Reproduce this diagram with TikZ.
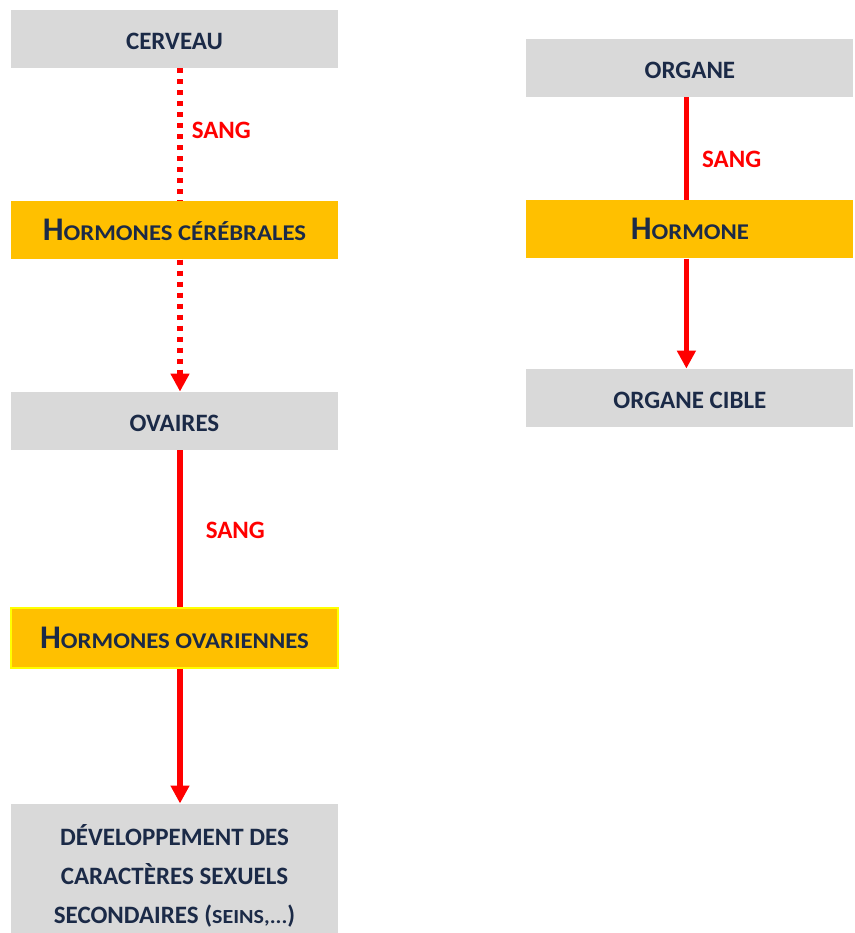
\documentclass[tikz,border=0pt]{standalone}
\usepackage{fontspec}
\setmainfont{Carlito}
\usetikzlibrary{arrows.meta, positioning}
\definecolor{textnavy}{HTML}{1B2A47}
\definecolor{boxgrey}{HTML}{D9D9D9}
\definecolor{hormgold}{HTML}{FFC000}
\definecolor{bloodred}{HTML}{FF0000}
\definecolor{brightyellow}{HTML}{FFFF00}
\tikzset{organ/.style={rectangle, fill=boxgrey, minimum width=327pt, minimum height=58pt, inner sep=0pt, text height=21pt, align=center, text=textnavy, font=\bfseries\fontsize{25}{39}\selectfont}}
\tikzset{hormone/.style={organ, fill=hormgold, text height=21pt}}
\tikzset{blood/.style={draw=bloodred, line width=5.5pt}}
\tikzset{flow/.style={blood, -{Triangle[width=18pt,length=18pt]}}}
\tikzset{pointille/.style={dash pattern=on 5pt off 6pt}}
\tikzset{sang/.style={right, inner sep=0pt, text=bloodred, font=\bfseries\fontsize{25}{28}\selectfont}}
\newcommand{\petitcap}[2]{{\fontsize{33}{36}\selectfont #1}{\addfontfeatures{FakeStretch=1.1}\fontsize{22.5}{26}\selectfont #2}}

\begin{document}
\begin{tikzpicture}[x=1pt, y=-1pt]
				\useasboundingbox (0,0) rectangle (854,933);
				\node[organ] (cerveau) at (174.5,39) {CERVEAU};
				\node[hormone] (hc) [below=133pt of cerveau] {\petitcap{H}{ORMONES CÉRÉBRALES}};
				\node[organ] (ovaires) [below=132pt of hc] {OVAIRES};
				\node[hormone, draw=brightyellow, line width=1.5pt, minimum height=60pt] (ho) [below=157pt of ovaires] {\petitcap{H}{ORMONES OVARIENNES}};
				\node[organ, minimum height=144pt, text height=] (dev) [below=135pt of ho] {DÉVELOPPEMENT DES\\CARACTÈRES SEXUELS\\SECONDAIRES ({\addfontfeatures{FakeStretch=1.1}\fontsize{20}{39}\selectfont SEINS,...})};

				\node[organ] (organe) [right=188pt of cerveau, yshift=-29pt] {ORGANE};
				\node[hormone] (hormone) [below=103pt of organe] {\petitcap{H}{ORMONE}};
				\node[organ] (cible) [below=110pt of hormone] {ORGANE CIBLE};

				% left column
				\draw[blood, pointille] ([xshift=5.5pt]cerveau.south) -- node[sang, pos=0.47, xshift=9pt] {SANG} ([xshift=5.5pt]hc.north);
				\draw[flow, pointille] ([xshift=5.5pt]hc.south) -- ([xshift=5.5pt]ovaires.north);
				\draw[blood] ([xshift=5.5pt]ovaires.south) -- node[sang, pos=0.51, xshift=23pt] {SANG} ([xshift=5.5pt]ho.north);
				\draw[flow] ([xshift=5.5pt]ho.south) -- ([xshift=5.5pt]dev.north);

				% right column
				\draw[blood] ([xshift=-3.5pt]organe.south) -- node[sang, pos=0.6, xshift=13pt] {SANG} ([xshift=-3.5pt]hormone.north);
				\draw[flow] ([xshift=-3.5pt]hormone.south) -- ([xshift=-3.5pt]cible.north);
\end{tikzpicture}
\end{document}
